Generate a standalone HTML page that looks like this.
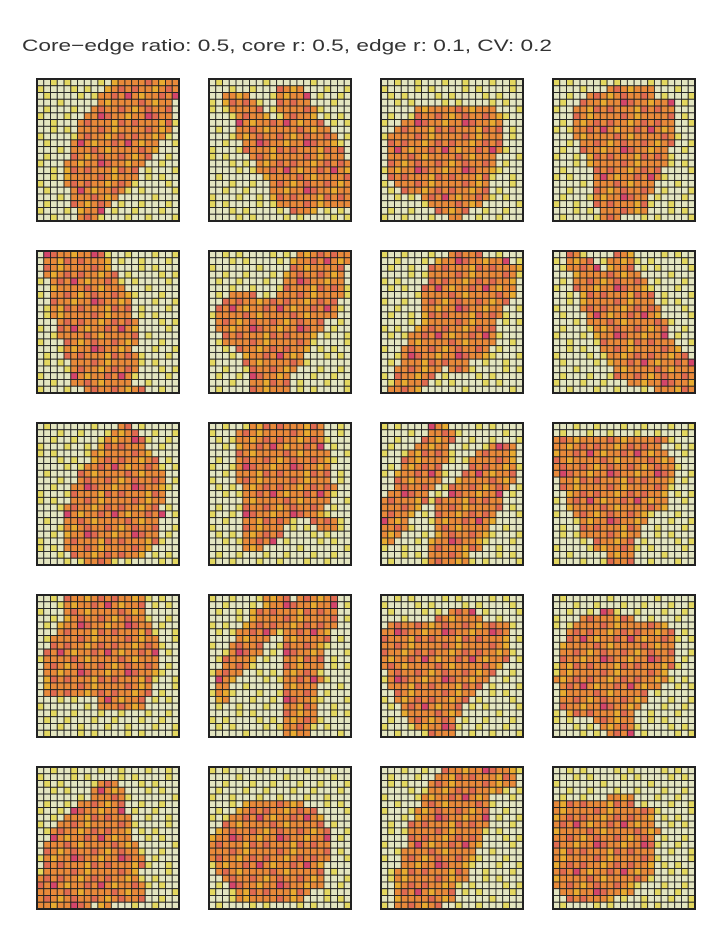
<!DOCTYPE html>
<html><head><meta charset="utf-8"><style>
html,body{margin:0;padding:0;background:#fff;width:725px;height:950px;overflow:hidden}
</style></head><body>
<svg id="fig" width="725" height="950" xmlns="http://www.w3.org/2000/svg">
<text x="22" y="51" font-family="Liberation Sans, sans-serif" font-size="17" fill="#333" textLength="530" lengthAdjust="spacingAndGlyphs">Core−edge ratio: 0.5, core r: 0.5, edge r: 0.1, CV: 0.2</text>
</svg>
<script>
// Core region per panel: for each of 21 rows, list of [startCol, endCol] segments
const panelCores = [
 [[[11,20]],[[10,20]],[[9,20]],[[9,19]],[[8,19]],[[7,19]],[[6,19]],[[6,19]],[[6,18]],[[5,17]],[[5,17]],[[5,16]],[[4,15]],[[4,14]],[[4,14]],[[4,13]],[[5,12]],[[5,11]],[[5,10]],[[6,9]],[[6,8]]],
 [[],[[10,13]],[[2,5],[10,14]],[[2,6],[10,14]],[[3,7],[10,15]],[[4,8],[11,15]],[[4,16]],[[4,17]],[[4,18]],[[5,18]],[[5,19]],[[6,19]],[[7,20]],[[7,20]],[[8,20]],[[9,20]],[[9,20]],[[9,20]],[[10,20]],[[12,15]],[]],
 [[],[],[],[],[[5,16]],[[5,17]],[[3,17]],[[2,17]],[[1,17]],[[1,17]],[[1,17]],[[1,16]],[[1,16]],[[1,16]],[[1,15]],[[2,15]],[[3,15]],[[6,15]],[[7,14]],[[8,12]],[[10,11]]],
 [[],[[8,14]],[[5,14]],[[4,17]],[[3,17]],[[3,17]],[[3,17]],[[3,17]],[[3,17]],[[4,17]],[[4,16]],[[5,16]],[[5,16]],[[6,15]],[[6,15]],[[6,14]],[[6,14]],[[6,13]],[[6,13]],[[7,13]],[[7,9]]],
 [[[1,9]],[[1,10]],[[1,10]],[[1,11]],[[2,11]],[[2,12]],[[2,13]],[[2,13]],[[2,13]],[[2,13]],[[3,14]],[[3,14]],[[3,14]],[[4,14]],[[4,13]],[[4,14]],[[5,14]],[[5,14]],[[5,13]],[[5,13]],[[7,15]]],
 [[[13,20]],[[12,20]],[[12,19]],[[11,19]],[[11,19]],[[11,19]],[[3,6],[10,19]],[[2,18]],[[1,18]],[[1,18]],[[1,16]],[[1,16]],[[2,15]],[[2,14]],[[4,14]],[[5,13]],[[5,13]],[[6,12]],[[6,11]],[[6,11]],[[6,11]]],
 [[[10,14]],[[8,18]],[[7,20]],[[7,19]],[[7,19]],[[6,19]],[[6,19]],[[6,18]],[[6,17]],[[6,17]],[[6,16]],[[5,16]],[[4,16]],[[4,16]],[[3,15]],[[3,15]],[[3,12]],[[2,8],[10,12]],[[2,7]],[[2,6]],[[1,5]]],
 [[[2,3],[9,11]],[[2,5],[8,11]],[[2,6],[8,11]],[[3,12]],[[3,13]],[[3,13]],[[4,14]],[[4,14]],[[4,15]],[[5,15]],[[5,16]],[[6,16]],[[6,16]],[[7,17]],[[7,18]],[[8,19]],[[8,20]],[[9,20]],[[9,20]],[[11,20]],[[15,20]]],
 [[[12,13]],[[11,14]],[[10,15]],[[9,15]],[[8,16]],[[8,17]],[[7,17]],[[6,18]],[[6,18]],[[5,18]],[[5,18]],[[5,18]],[[4,17]],[[4,18]],[[4,17]],[[4,17]],[[4,17]],[[4,17]],[[4,16]],[[5,15]],[[7,10]]],
 [[[6,16]],[[4,16]],[[4,16]],[[4,16]],[[4,17]],[[4,17]],[[4,17]],[[4,17]],[[4,17]],[[5,18]],[[5,17]],[[5,17]],[[5,16]],[[5,14],[15,16]],[[5,11],[15,18]],[[5,10],[16,18]],[[5,10]],[[5,9]],[[5,7]],[],[]],
 [[[7,9]],[[7,10]],[[6,10]],[[5,9],[16,19]],[[4,9],[14,19]],[[3,9],[13,19]],[[3,8],[13,19]],[[2,8],[12,19]],[[2,8],[11,19]],[[2,7],[10,18]],[[1,6],[10,17]],[[0,6],[8,17]],[[0,5],[8,17]],[[0,4],[8,16]],[[0,3],[8,16]],[[0,3],[8,15]],[[0,2],[8,15]],[[0,1],[7,14]],[[7,14]],[[7,12]],[[7,12]]],
 [[],[],[[0,16]],[[0,15]],[[0,16]],[[0,17]],[[0,17]],[[0,17]],[[1,17]],[[1,16]],[[2,16]],[[2,16]],[[2,16]],[[3,13]],[[4,13]],[[4,12]],[[4,12]],[[6,11]],[[6,11]],[[8,11]],[[8,11]]],
 [[[4,15]],[[4,15]],[[4,15]],[[4,15]],[[3,16]],[[3,16]],[[2,17]],[[2,17]],[[1,17]],[[1,17]],[[1,17]],[[1,17]],[[1,16]],[[1,16]],[[1,16]],[[9,15]],[[9,15]],[],[],[],[]],
 [[[8,11],[13,18]],[[8,11],[12,18]],[[6,11],[12,18]],[[6,11],[12,18]],[[5,10],[11,18]],[[4,9],[11,17]],[[4,8],[11,17]],[[3,7],[11,16]],[[3,7],[11,16]],[[2,6],[11,16]],[[2,5],[11,16]],[[1,4],[11,15]],[[1,3],[11,16]],[[1,2],[11,15]],[[1,2],[11,15]],[[1,2],[11,15]],[[11,15]],[[11,15]],[[11,15]],[[11,14]],[[11,14]]],
 [[],[],[[10,13]],[[8,14]],[[1,18]],[[0,18]],[[0,18]],[[0,18]],[[0,18]],[[0,18]],[[0,17]],[[1,16]],[[1,15]],[[1,14]],[[2,13]],[[2,12]],[[3,11]],[[3,11]],[[4,10]],[[5,10]],[[7,10]]],
 [[],[],[[7,8]],[[4,11]],[[3,16]],[[2,17]],[[2,17]],[[1,17]],[[1,17]],[[1,17]],[[1,17]],[[1,16]],[[0,16]],[[1,15]],[[1,13]],[[1,13]],[[1,12]],[[2,11]],[[6,11]],[[7,11]],[[8,11]]],
 [[],[],[[9,11]],[[8,12]],[[8,12]],[[6,12]],[[5,12]],[[4,13]],[[3,13]],[[2,13]],[[2,13]],[[1,14]],[[1,14]],[[1,15]],[[1,15]],[[1,14]],[[0,14]],[[0,15]],[[0,15]],[[0,15]],[[0,7],[9,10]]],
 [[],[],[],[],[],[[5,13]],[[4,15]],[[3,16]],[[2,16]],[[1,17]],[[0,17]],[[0,17]],[[0,17]],[[0,17]],[[1,16]],[[1,16]],[[2,16]],[[3,16]],[[4,14]],[[4,13]],[]],
 [[[9,19]],[[8,19]],[[7,19]],[[7,17]],[[6,15]],[[6,15]],[[5,15]],[[5,15]],[[4,15]],[[4,14]],[[4,14]],[[4,14]],[[3,13]],[[3,13]],[[3,12]],[[2,12]],[[2,12]],[[2,10]],[[2,10]],[[2,10]],[[2,8]]],
 [[],[],[],[],[[8,11]],[[0,11]],[[0,14]],[[0,14]],[[0,14]],[[0,15]],[[0,14]],[[0,14]],[[0,14]],[[0,14]],[[0,14]],[[0,14]],[[0,13]],[[0,11]],[[1,11]],[[2,8]],[]]
];
// Hand-written level textures (core: 2 orange, 3 coral, 4 pink, 5 amber; edge: 0 pale, 1 yellow)
const coreTexture = ["2232522","3225232","2522324","2325222","5232232","2243225","3222532"];
const edgeTexture = ["0010100","1000010","0100001","0001000","0100010","1000100","0010001"];
const levelColors = {"0":"#e3e5c0","1":"#e3d75f","2":"#e8893a","3":"#e06a50","4":"#d4456b","5":"#e8ab30"};
const panelX = [37,209,381,553];
const panelY = [79,251,423,595,767];

const NS = "http://www.w3.org/2000/svg";
const svg = document.getElementById("fig");
const N = 21, SIZE = 142, cs = SIZE / N;
panelCores.forEach((rows, p) => {
  const g = document.createElementNS(NS, "g");
  
  
  const ox = panelX[p % 4], oy = panelY[Math.floor(p / 4)];
  for (let r = 0; r < N; r++) {
    for (let c = 0; c < N; c++) {
      const inCore = (rows[r] || []).some(s => c >= s[0] && c <= s[1]);
      const tr = (r + p * 3) % 7, tc = (c + p * 2) % 7;
      const lv = inCore ? coreTexture[tr][tc] : edgeTexture[tr][tc];
      const rect = document.createElementNS(NS, "rect");
      
      
      rect.setAttribute("x", (ox + c * cs).toFixed(2));
      rect.setAttribute("y", (oy + r * cs).toFixed(2));
      rect.setAttribute("width", cs.toFixed(2));
      rect.setAttribute("height", cs.toFixed(2));
      rect.setAttribute("fill", levelColors[lv]);
      rect.setAttribute("stroke", "#222");
      rect.setAttribute("stroke-width", "0.9");
      g.appendChild(rect);
    }
  }
  const border = document.createElementNS(NS, "rect");
  
  
  border.setAttribute("x", ox); border.setAttribute("y", oy);
  border.setAttribute("width", SIZE); border.setAttribute("height", SIZE);
  border.setAttribute("fill", "none"); border.setAttribute("stroke", "#222");
  border.setAttribute("stroke-width", "2");
  g.appendChild(border);
  svg.appendChild(g);
});
</script>
</body></html>
